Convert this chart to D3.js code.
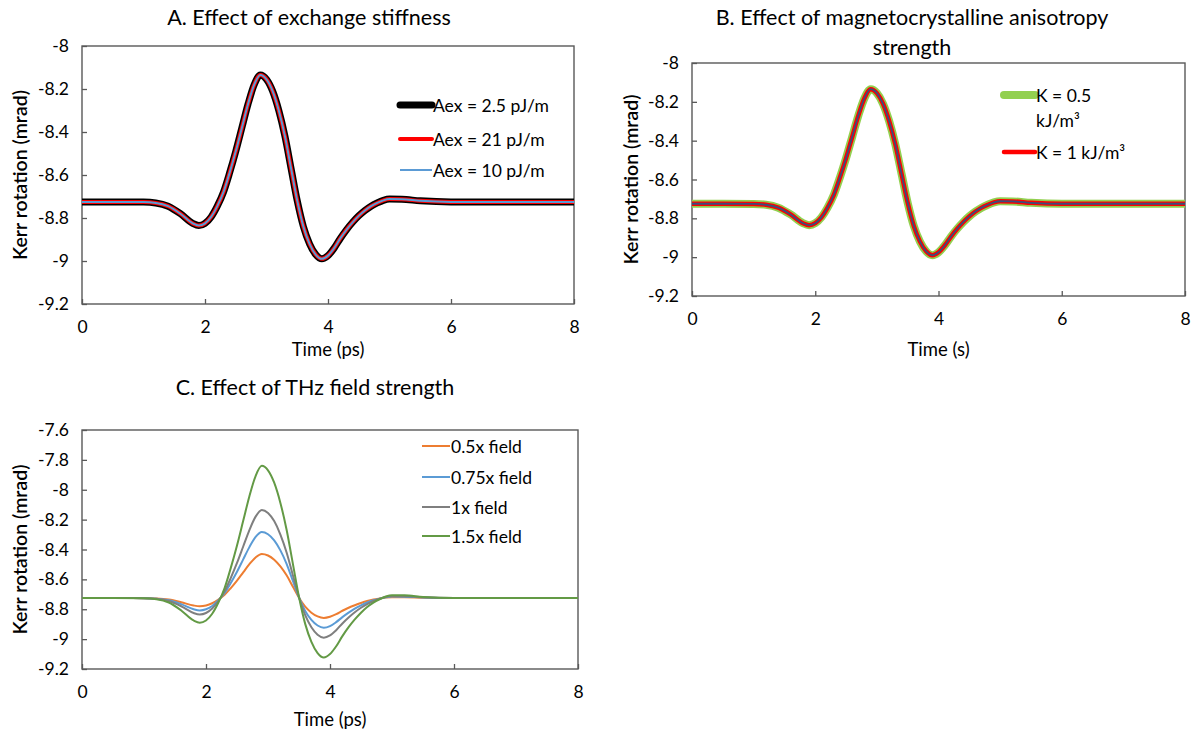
<!DOCTYPE html>
<html>
<head>
<meta charset="utf-8">
<script src="https://cdn.jsdelivr.net/npm/d3@7"></script>
<style>
  html, body { margin: 0; padding: 0; background: #fff; }
  svg { display: block; font-family: Lato, "Open Sans", sans-serif; }
</style>
</head>
<body>
<svg id="chart" width="1194" height="730"></svg>
<script>
// ---------------- DATA ----------------
const time = [0, 0.5, 1.0, 1.2, 1.4, 1.6, 1.8, 1.9, 2.0, 2.1, 2.2, 2.3, 2.4, 2.5, 2.6, 2.7, 2.8, 2.9, 3.0,
  3.1, 3.2, 3.3, 3.4, 3.5, 3.6, 3.7, 3.8, 3.9, 4.0, 4.1, 4.2, 4.3, 4.4, 4.5, 4.6, 4.7, 4.8, 4.9, 5.0,
  5.2, 5.5, 6, 7, 8];

// Panel A / B (all series overlap)
const aex25 = [-8.725, -8.725, -8.726, -8.73, -8.745, -8.78, -8.825, -8.835, -8.825, -8.795, -8.745, -8.68,
  -8.59, -8.49, -8.38, -8.27, -8.18, -8.135, -8.155, -8.21, -8.30, -8.42, -8.57, -8.72, -8.84, -8.92, -8.97,
  -8.99, -8.975, -8.94, -8.895, -8.855, -8.82, -8.79, -8.765, -8.745, -8.73, -8.718, -8.712, -8.713, -8.72,
  -8.725, -8.725, -8.725];
const aex21 = aex25.slice();
const aex10 = aex25.slice();
const k05 = aex25.slice();
const k1 = aex25.slice();
const kRef = aex25.slice();

// Panel C
const field05 = [-8.725, -8.725, -8.726, -8.728, -8.735, -8.753, -8.775, -8.78, -8.775, -8.76, -8.735, -8.703,
  -8.658, -8.608, -8.553, -8.498, -8.453, -8.43, -8.44, -8.468, -8.513, -8.573, -8.648, -8.723, -8.783, -8.823,
  -8.848, -8.858, -8.85, -8.833, -8.81, -8.79, -8.773, -8.758, -8.745, -8.735, -8.728, -8.722, -8.719, -8.719,
  -8.723, -8.725, -8.725, -8.725];
const field075 = [-8.725, -8.725, -8.726, -8.729, -8.74, -8.766, -8.80, -8.808, -8.80, -8.778, -8.74, -8.691,
  -8.624, -8.549, -8.466, -8.384, -8.316, -8.283, -8.298, -8.339, -8.406, -8.496, -8.609, -8.721, -8.811, -8.871,
  -8.909, -8.924, -8.913, -8.886, -8.853, -8.823, -8.796, -8.774, -8.755, -8.74, -8.729, -8.72, -8.715, -8.716,
  -8.721, -8.725, -8.725, -8.725];
const field1 = aex25.slice();
const field15 = [-8.725, -8.725, -8.727, -8.733, -8.755, -8.808, -8.875, -8.89, -8.875, -8.83, -8.755, -8.658,
  -8.523, -8.373, -8.208, -8.043, -7.908, -7.84, -7.87, -7.953, -8.088, -8.268, -8.493, -8.718, -8.898, -9.018,
  -9.093, -9.123, -9.10, -9.048, -8.98, -8.92, -8.868, -8.823, -8.785, -8.755, -8.733, -8.715, -8.706, -8.707,
  -8.718, -8.725, -8.725, -8.725];

const xTicks = [0, 2, 4, 6, 8];
const yTicksAB = [-8, -8.2, -8.4, -8.6, -8.8, -9, -9.2];
const yTicksC = [-7.6, -7.8, -8, -8.2, -8.4, -8.6, -8.8, -9, -9.2];

const titles = {
  A: ["A. Effect of exchange stiffness"],
  B: ["B. Effect of magnetocrystalline anisotropy", "strength"],
  C: ["C. Effect of THz field strength"]
};
const xLabels = { A: "Time (ps)", B: "Time (s)", C: "Time (ps)" };
const yLabel = "Kerr rotation (mrad)";

// ---------------- LAYOUT / STYLE ----------------
const panels = [
  {
    key: "A", left: 82, right: 574, top: 46, bottom: 304, yDomain: [-9.2, -8], yTicks: yTicksAB,
    titleX: 309, titleY: 17, yTitleX: 19, xTitleY: 349,
    series: [
      { name: "Aex = 2.5 pJ/m", values: aex25, color: "#000000", width: 7, legend: true },
      { name: "Aex = 21 pJ/m", values: aex21, color: "#ff0000", width: 4, legend: true },
      { name: "Aex = 10 pJ/m", values: aex10, color: "#5b9bd5", width: 2, legend: true }
    ],
    legend: { x1: 400, x2: 432, rows: [105, 139, 170] }
  },
  {
    key: "B", left: 692, right: 1185, top: 63, bottom: 296, yDomain: [-9.2, -8], yTicks: yTicksAB,
    titleX: 912, titleY: 17, yTitleX: 630, xTitleY: 349,
    series: [
      { name: "K = 0.5|kJ/m³", values: k05, color: "#92d050", width: 8, legend: true },
      { name: "K = 1 kJ/m³", values: k1, color: "#ff0000", width: 4.5, legend: true },
      { name: "", values: kRef, color: "#3b4e7a", width: 1.8, legend: false }
    ],
    legend: { x1: 1004, x2: 1035, rows: [95, 152] }
  },
  {
    key: "C", left: 82, right: 578, top: 430, bottom: 669, yDomain: [-9.2, -7.6], yTicks: yTicksC,
    titleX: 315, titleY: 387, yTitleX: 19, xTitleY: 719,
    series: [
      { name: "0.5x field", values: field05, color: "#ed7d31", width: 2, legend: true },
      { name: "0.75x field", values: field075, color: "#5b9bd5", width: 2, legend: true },
      { name: "1x field", values: field1, color: "#7f7f7f", width: 2, legend: true },
      { name: "1.5x field", values: field15, color: "#639a45", width: 2, legend: true }
    ],
    legend: { x1: 422, x2: 450, rows: [446, 477, 507, 536] }
  }
];

const svg = d3.select("#chart");
svg.append("rect").attr("width", 1194).attr("height", 730).attr("fill", "#fff");

const axisColor = "#595959";
const tickFont = 17.5;

panels.forEach(p => {
  const g = svg.append("g");
  const x = d3.scaleLinear().domain([0, 8]).range([p.left, p.right]);
  const y = d3.scaleLinear().domain(p.yDomain).range([p.bottom, p.top]);

  // title
  titles[p.key].forEach((t, i) => {
    g.append("text").attr("x", p.titleX).attr("y", p.titleY + i * 30)
      .attr("text-anchor", "middle").attr("dominant-baseline", "central")
      .attr("font-size", 21.5).attr("fill", "#000").text(t);
  });

  // y axis (ticks inside)
  const yAxis = d3.axisLeft(y).tickValues(p.yTicks).tickSize(-5).tickPadding(13)
    .tickFormat(d => String(+d.toFixed(1)));
  const ya = g.append("g").attr("transform", `translate(${p.left},0)`).call(yAxis);
  ya.select(".domain").remove();
  ya.selectAll(".tick line").attr("stroke", axisColor).attr("stroke-width", 1.3);
  ya.selectAll(".tick text").attr("font-size", tickFont).attr("fill", "#000")
    .attr("font-family", "Lato, sans-serif");

  // x axis (ticks inside)
  const xAxis = d3.axisBottom(x).tickValues(xTicks).tickSize(-5).tickPadding(17).tickFormat(d3.format("d"));
  const xa = g.append("g").attr("transform", `translate(0,${p.bottom})`).call(xAxis);
  xa.select(".domain").remove();
  xa.selectAll(".tick line").attr("stroke", axisColor).attr("stroke-width", 1.3);
  xa.selectAll(".tick text").attr("font-size", tickFont).attr("fill", "#000")
    .attr("font-family", "Lato, sans-serif");

  // frame
  g.append("rect").attr("x", p.left).attr("y", p.top)
    .attr("width", p.right - p.left).attr("height", p.bottom - p.top)
    .attr("fill", "none").attr("stroke", axisColor).attr("stroke-width", 1.4);

  // axis titles
  g.append("text").attr("x", (p.left + p.right) / 2).attr("y", p.xTitleY)
    .attr("text-anchor", "middle").attr("dominant-baseline", "central")
    .attr("font-size", 18.5).attr("fill", "#000").text(xLabels[p.key]);
  g.append("text")
    .attr("transform", `translate(${p.yTitleX},${(p.top + p.bottom) / 2}) rotate(-90)`)
    .attr("text-anchor", "middle").attr("dominant-baseline", "central")
    .attr("font-size", 19.5).attr("font-weight", 600).attr("fill", "#000").text(yLabel);

  // lines
  const line = d3.line().x((d, i) => x(time[i])).y(d => y(d)).curve(d3.curveMonotoneX);
  const clipId = "clip" + p.key;
  svg.append("clipPath").attr("id", clipId).append("rect")
    .attr("x", p.left).attr("y", p.top - 10).attr("width", p.right - p.left).attr("height", p.bottom - p.top + 20);
  const lg = g.append("g").attr("clip-path", `url(#${clipId})`);
  p.series.forEach(s => {
    lg.append("path").datum(s.values).attr("d", line)
      .attr("fill", "none").attr("stroke", s.color).attr("stroke-width", s.width)
      .attr("stroke-linejoin", "round").attr("stroke-linecap", "round");
  });

  // legend
  p.series.filter(s => s.legend).forEach((s, i) => {
    const yy = p.legend.rows[i];
    g.append("line").attr("x1", p.legend.x1).attr("x2", p.legend.x2).attr("y1", yy).attr("y2", yy)
      .attr("stroke", s.color).attr("stroke-width", s.width).attr("stroke-linecap", s.width > 3 ? "round" : "butt");
    s.name.split("|").forEach((t, j) => {
      g.append("text").attr("x", p.legend.x2 + 1).attr("y", yy + j * 25)
        .attr("dominant-baseline", "central").attr("font-size", 17.5).attr("fill", "#000").text(t);
    });
  });
});
</script>
</body>
</html>
